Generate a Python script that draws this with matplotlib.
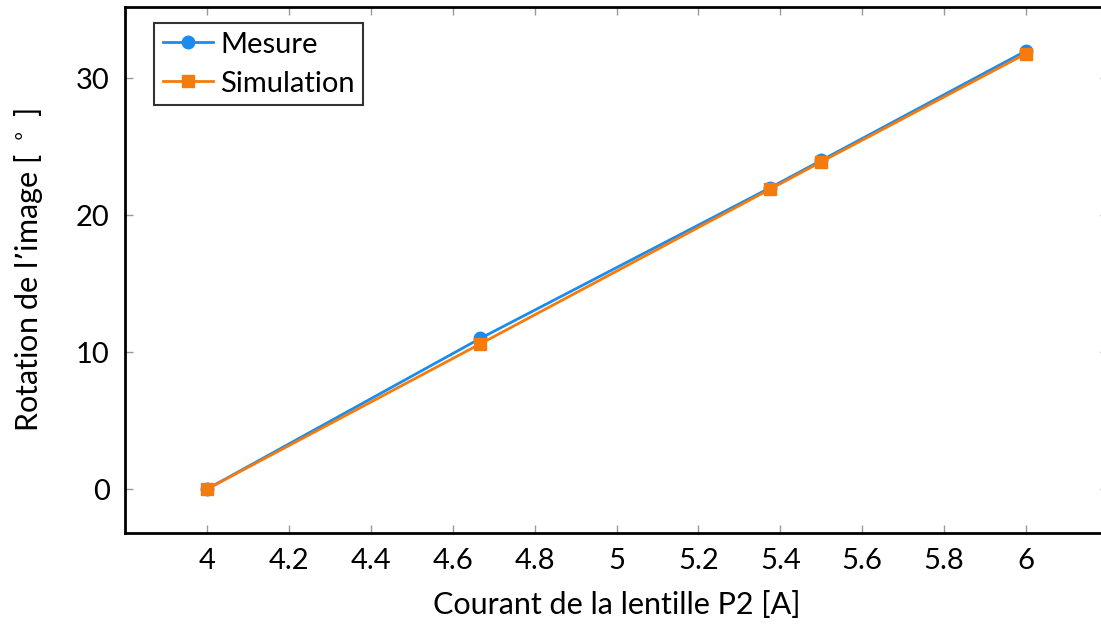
import matplotlib.pyplot as plt

# Donnees
courant = [4.0, 4.667, 5.375, 5.5, 6.0]
mesure = [0.0, 11.0, 22.0, 24.0, 32.0]
simulation = [0.0, 10.6, 21.9, 23.9, 31.8]

xticks = [4, 4.2, 4.4, 4.6, 4.8, 5, 5.2, 5.4, 5.6, 5.8, 6]
xlabels = ['4', '4.2', '4.4', '4.6', '4.8', '5', '5.2', '5.4', '5.6', '5.8', '6']
yticks = [0, 10, 20, 30]

plt.rcParams['font.family'] = ['Lato', 'DejaVu Sans']

fig = plt.figure(figsize=(11.01, 6.28), dpi=100)
ax = fig.add_axes([125 / 1101, 95 / 628, 983 / 1101, 526 / 628])

ax.plot(courant, mesure, color='#1a8cf0', lw=2, marker='o', ms=9, label='Mesure')
ax.plot(courant, simulation, color='#f47b0c', lw=2, marker='s', ms=9, label='Simulation')

ax.set_xlim(3.8, 6.2)
ax.set_ylim(-3.2, 35.2)
ax.set_xticks(xticks)
ax.set_xticklabels(xlabels)
ax.set_yticks(yticks)
ax.tick_params(direction='in', length=6, width=1, color='#999999',
               labelsize=21, top=True, right=True, pad=11)
for s in ax.spines.values():
    s.set_linewidth(2)

ax.set_xlabel('Courant de la lentille P2 [A]', fontsize=22, labelpad=12)
ax.set_ylabel('Rotation de l\u2019image [ $^\\circ$ ]', fontsize=22, labelpad=22)

leg = ax.legend(loc='upper left', fontsize=21, frameon=True, fancybox=False,
                edgecolor='black', handlelength=1.7, borderpad=0.3,
                labelspacing=0.45, handletextpad=0.25, borderaxespad=0,
                bbox_to_anchor=(0.03, 0.97))
leg.get_frame().set_linewidth(1.5)

fig.savefig('out.png', dpi=100)
